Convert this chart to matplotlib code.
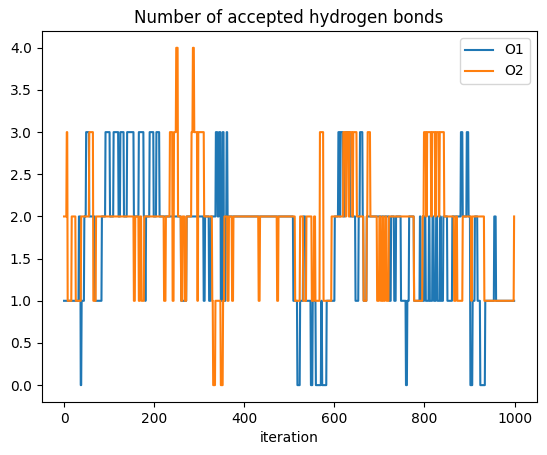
import numpy as np
import matplotlib
matplotlib.use("Agg")
import matplotlib.pyplot as plt

n_iter = 1000

# change points: (start iteration, number of bonds)
o1_changes = [
    (0, 1), (33, 2), (37, 0), (39, 1), (45, 2), (49, 3), (56, 2), (69, 1), (84, 2),
    (92, 3), (102, 2), (110, 3), (121, 2), (125, 3), (133, 2), (140, 3), (155, 2),
    (166, 3), (177, 2), (180, 1), (182, 2), (190, 3), (199, 2), (205, 3), (212, 2),
    (260, 1), (272, 2), (310, 1), (313, 2), (322, 1), (326, 2), (337, 3), (341, 2),
    (344, 3), (348, 1), (352, 3), (355, 1), (359, 2), (361, 3), (363, 2),
    (509, 1), (518, 0), (524, 1), (531, 2), (536, 1), (548, 0), (552, 1), (559, 0),
    (571, 1), (573, 0), (583, 1), (601, 2), (609, 3), (612, 2), (614, 3), (620, 2),
    (624, 3), (635, 2), (647, 1), (654, 2), (657, 3), (663, 2), (665, 1), (672, 2),
    (722, 1), (726, 2), (733, 1), (737, 2), (748, 1), (759, 0), (762, 1), (766, 2),
    (777, 1), (790, 2), (792, 1), (800, 2), (803, 1), (810, 2), (812, 1), (818, 2),
    (821, 1), (826, 2), (829, 1), (835, 2), (837, 1), (842, 2), (851, 1), (862, 2),
    (881, 3), (885, 2), (894, 3), (898, 2), (902, 0), (907, 1), (912, 2), (918, 1),
    (924, 0), (935, 1), (955, 2), (959, 1),
]

o2_changes = [
    (0, 2), (6, 3), (8, 1), (17, 2), (26, 1), (38, 2), (56, 3), (65, 1), (71, 2),
    (155, 1), (158, 2), (166, 1), (169, 2), (172, 1), (178, 2), (222, 1), (226, 2),
    (235, 3), (241, 1), (244, 3), (249, 4), (253, 2), (260, 1), (263, 2), (268, 1),
    (272, 2), (283, 3), (286, 4), (289, 3), (296, 1), (298, 3), (311, 2), (329, 1),
    (331, 0), (336, 1), (348, 0), (353, 1), (356, 2), (363, 1), (366, 2), (373, 1),
    (376, 2), (432, 1), (435, 2), (473, 1), (476, 2), (513, 1), (524, 2), (531, 1),
    (538, 2), (550, 1), (555, 2), (558, 1), (568, 3), (576, 1), (594, 2), (620, 3),
    (625, 2), (627, 3), (632, 2), (634, 3), (640, 2), (642, 3), (650, 2), (665, 1),
    (672, 2), (674, 3), (680, 2), (695, 1), (700, 2), (703, 1), (707, 2), (709, 1),
    (713, 2), (716, 1), (721, 2), (777, 1), (796, 2), (799, 3), (804, 2), (806, 3),
    (815, 2), (817, 3), (824, 2), (826, 3), (832, 2), (834, 3), (844, 2), (866, 1),
    (870, 2), (873, 1), (885, 2), (904, 1), (906, 2), (933, 1), (999, 2),
]


def expand(changes, n):
    starts = [c[0] for c in changes] + [n]
    vals = [c[1] for c in changes]
    lengths = np.diff(starts)
    return np.repeat(vals, lengths)


iteration = np.arange(n_iter)
o1 = expand(o1_changes, n_iter)
o2 = expand(o2_changes, n_iter)

fig, ax = plt.subplots(figsize=(5.47, 4.55), dpi=100)
fig.subplots_adjust(left=0.076, right=0.981, top=0.932, bottom=0.1165)
ax.plot(iteration, o1, label="O1")
ax.plot(iteration, o2, label="O2")
ax.set_title("Number of accepted hydrogen bonds")
ax.set_xlabel("iteration")
ax.legend(loc="upper right")
fig.savefig("out.png", dpi=100)
